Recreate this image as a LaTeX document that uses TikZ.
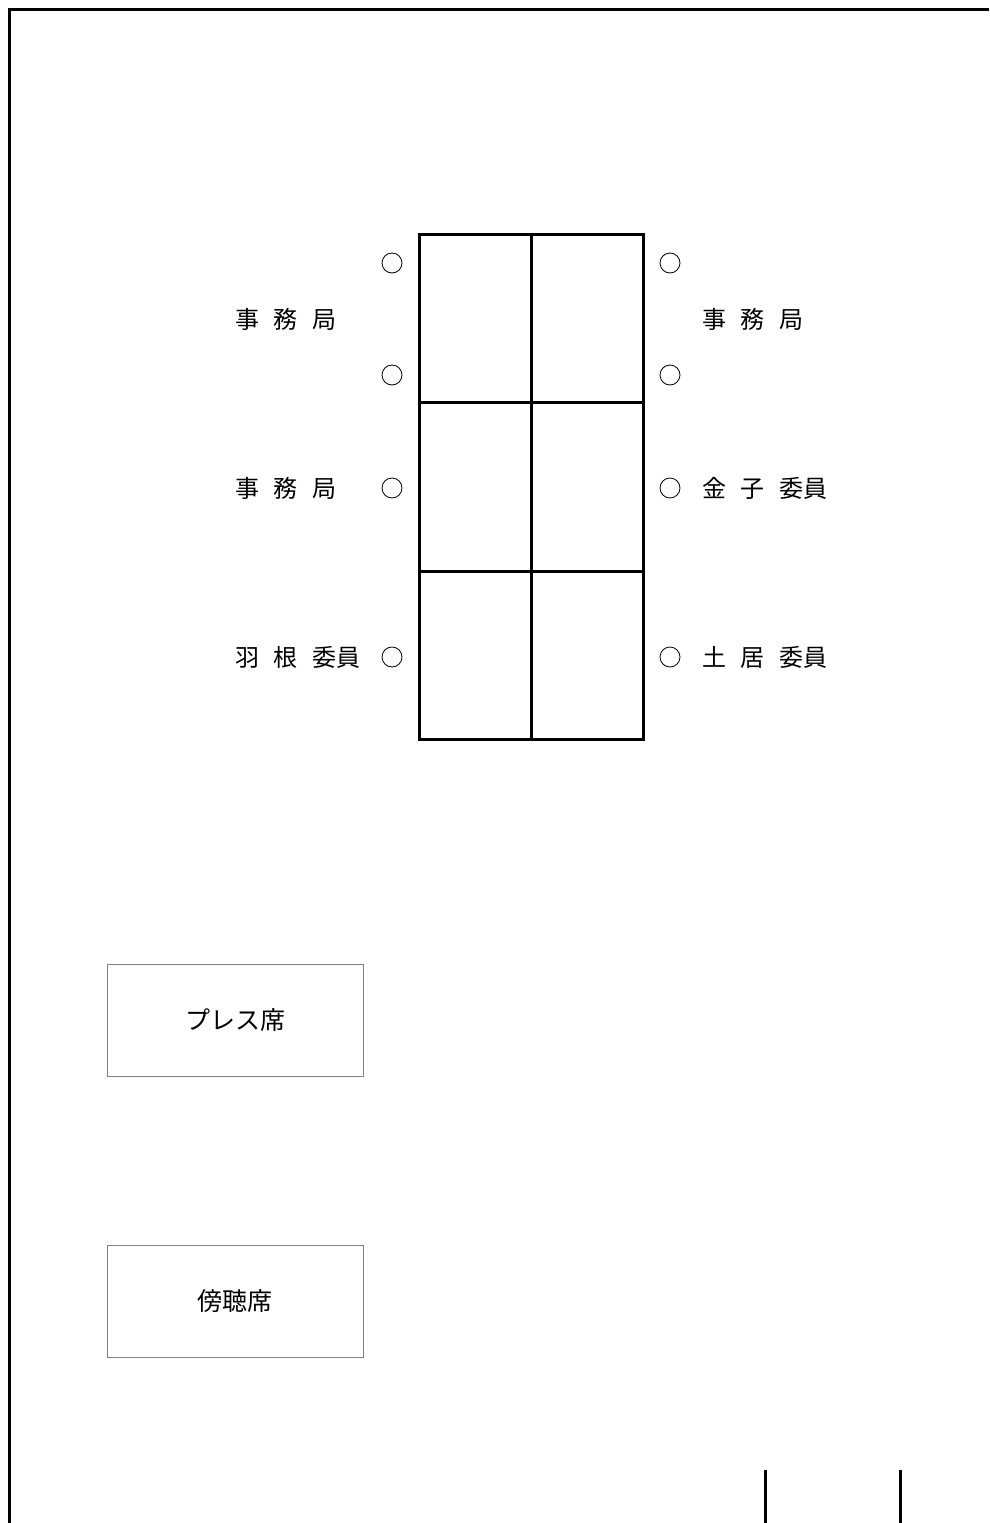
\documentclass[tikz,border=0pt]{standalone}
\usepackage{fontspec}
\newfontfamily\jpfont{Noto Sans CJK JP}
\newcommand{\gap}{\hspace{14.5pt}}
\tikzset{
  seat/.style={circle,draw,line width=0.8pt,minimum size=20pt,inner sep=0pt},
  seatlabel/.style={anchor=west,inner sep=0pt,font=\jpfont\fontsize{24}{29}\selectfont},
  areabox/.style={draw=gray,line width=0.8pt,minimum width=256pt,minimum height=112pt,
    inner sep=0pt,font=\jpfont\fontsize{25}{30}\selectfont},
}
\begin{document}
\begin{tikzpicture}[x=1pt,y=-1pt]
      \useasboundingbox (0,0) rectangle (989,1523);
      % room outline
      \draw[line width=3pt] (9,1523) -- (9,9) -- (989,9);
      % table
      \begin{scope}[line width=3pt]
        \draw (419,234) rectangle (643,739);
        \draw (531,234) -- (531,739);
        \draw (419,402) -- (643,402);
        \draw (419,571) -- (643,571);
      \end{scope}
      % seats
      \draw
        (392,263) node[seat] (l1){}
        (392,375) node[seat] (l2){}
        (392,488) node[seat] (l3){}
        (392,657) node[seat] (l4){}
        (670,263) node[seat] (r1){}
        (670,375) node[seat] (r2){}
        (670,488) node[seat] (r3){}
        (670,657) node[seat] (r4){};
      \draw
        (235,319) node[seatlabel] (jl1){事\gap 務\gap 局}
        (235,488) node[seatlabel] (jl2){事\gap 務\gap 局}
        (235,657) node[seatlabel] (hane){羽\gap 根\gap 委員}
        (702,319) node[seatlabel] (jr1){事\gap 務\gap 局}
        (702,488) node[seatlabel] (kaneko){金\gap 子\gap 委員}
        (702,657) node[seatlabel] (doi){土\gap 居\gap 委員};
      % press and public seats
      \node[areabox] (press) at (235,1020) {プレス席};
      \node[areabox] (public) at (235,1301) {傍聴席};
      % door
      \begin{scope}[line width=3pt]
        \draw (765,1470) -- (765,1523);
        \draw (900,1470) -- (900,1523);
      \end{scope}
    \end{tikzpicture}
\end{document}
